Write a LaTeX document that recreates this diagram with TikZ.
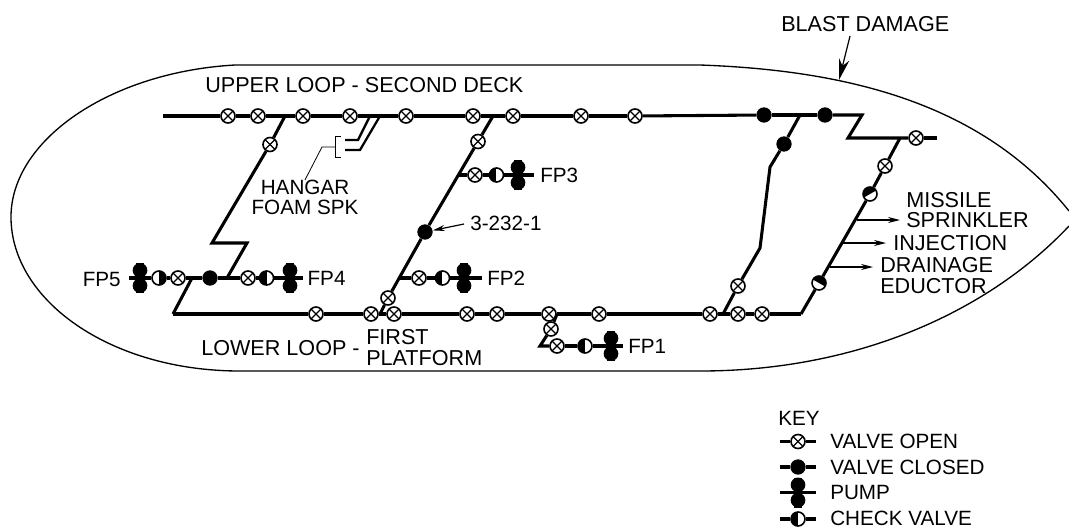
\documentclass[tikz,border=0pt]{standalone}
\usepackage{fontspec}
\setmainfont{Liberation Sans}
\usepackage{tikz}
\usetikzlibrary{arrows.meta, positioning}

\begin{document}
\begin{tikzpicture}[
    x=0.75pt, y=-0.75pt,
    node distance=5pt and 5pt,
    % ── Fitting styles ──
    valveopen/.style={circle, draw=black, line width=1.2pt, fill=white,
                      inner sep=0pt, minimum size=10.5pt,
                      path picture={
                        \draw[black, line width=1pt] (path picture bounding box.north west) -- (path picture bounding box.south east);
                        \draw[black, line width=1pt] (path picture bounding box.north east) -- (path picture bounding box.south west);}},
    valveshut/.style={circle, fill=black, inner sep=0pt, minimum size=11.5pt},
    % the argument is the side that is black
    checkvalve/.style={circle, draw=black, line width=1.2pt, fill=white,
                       inner sep=0pt, minimum size=10.5pt,
                       path picture={
                         \fill[black] (path picture bounding box.center) ++(#1-90:8pt)
                           -- ++(#1:8pt) -- ++(#1+90:16pt) -- ++(#1+180:8pt) -- cycle;}},
    checkvalve/.default=180,
    pumpbody/.style={rectangle, inner sep=0pt, outer sep=-0.5pt, minimum width=11pt, minimum height=22.5pt,
                     path picture={
                       \fill ([yshift=-5.5pt]path picture bounding box.north) circle (5.5pt);
                       \fill ([yshift=5.5pt]path picture bounding box.south) circle (5.5pt);
                       \fill ([xshift=-3pt]path picture bounding box.north) rectangle ([xshift=3pt]path picture bounding box.south);
                       \fill ([yshift=1.15pt]path picture bounding box.west) rectangle ([yshift=-1.15pt]path picture bounding box.east);}},
    % ── Line styles ──
    pipe/.style={line width=2.3pt, line join=miter},
    foam/.style={line width=1.7pt},
    hull/.style={line width=1pt},
    leader/.style={line width=0.6pt},
    arr/.style={-{Stealth[length=9pt, width=4.5pt]}, line width=0.9pt},
    bigarr/.style={-{Stealth[length=16pt, width=8pt]}, line width=0.9pt},
    lbl/.style={inner sep=0pt, align=left, font=\fontsize{15.5}{15}\selectfont},
    biglbl/.style={inner sep=0pt, align=left, font=\fontsize{16.2}{15.5}\selectfont},
    lblmid/.style={inner sep=0pt, align=center, font=\fontsize{15.5}{15}\selectfont}
]
\useasboundingbox (0,0) rectangle (1069,529);

% ═══ Hull outline ═══
\coordinate (bowtop) at (1069,211);
\coordinate (bowlow) at (1069,226);
\draw[hull] (bowtop) .. controls (980,100) and (840,70) .. (700,65)
  -- (235,65) .. controls (110,72) and (11,140) .. (11,217)
  .. controls (11,300) and (110,371) .. (240,371)
  -- (700,371) .. controls (860,371) and (990,310) .. (bowlow);

% ═══ Upper loop ═══
\coordinate (upstart) at (163,116);
\node[valveopen] (u1) at (228,116) {};
\node[valveopen] (u2) at (258,116) {};
\coordinate (ujleft) at (285,116);
\node[valveopen] (u3) at (303,116) {};
\node[valveopen] (u4) at (350,116) {};
\node[valveopen] (u5) at (406,116) {};
\node[valveopen] (u6) at (473,116) {};
\coordinate (ujmid) at (493,116);
\node[valveopen] (u7) at (513,116) {};
\node[valveopen] (u8) at (581,116) {};
\node[valveopen] (u9) at (635,116) {};
\node[valveshut] (u10) at (764,115) {};
\coordinate (ujright) at (800,115);
\node[valveshut] (u11) at (825,115) {};
\coordinate (upend) at (862,115);
\coordinate (updrop) at (848,138);
\coordinate (ujaft) at (900,138);
\node[valveopen] (u12) at (916,138) {};
\coordinate (upstub) at (937,138);

\draw[pipe] (upstart) -- (u1);
\draw[pipe] (u1) -- (u2);
\draw[pipe] (u2) -- (u3);
\draw[pipe] (u3) -- (u4);
\draw[pipe] (u4) -- (u5);
\draw[pipe] (u5) -- (u6);
\draw[pipe] (u6) -- (u7);
\draw[pipe] (u7) -- (u8);
\draw[pipe] (u8) -- (u9);
\draw[pipe] (u9) -- (u10);
\draw[pipe] (u10) -- (u11);
\draw[pipe] (u11) -- (upend) -- (updrop) -- (u12);
\draw[pipe] (u12) -- (upstub);

% ═══ Lower loop ═══
\coordinate (lowstart) at (173,314);
\node[valveopen] (l1) at (316,314) {};
\node[valveopen] (l2) at (371,314) {};
\coordinate (ljmid) at (380,314);
\node[valveopen] (l3) at (394,314) {};
\node[valveopen] (l4) at (467,314) {};
\node[valveopen] (l5) at (497,314) {};
\node[valveopen] (l6) at (549,314) {};
\coordinate (ljpump) at (557,314);
\node[valveopen] (l7) at (599,314) {};
\node[valveopen] (l8) at (710,314) {};
\coordinate (ljright) at (723,314);
\node[valveopen] (l9) at (738,314) {};
\node[valveopen] (l10) at (762,314) {};
\coordinate (lowend) at (801,314);

\draw[pipe] (lowstart) -- (l1);
\draw[pipe] (l1) -- (l2);
\draw[pipe] (l2) -- (l3);
\draw[pipe] (l3) -- (l4);
\draw[pipe] (l4) -- (l5);
\draw[pipe] (l5) -- (l6);
\draw[pipe] (l6) -- (l7);
\draw[pipe] (l7) -- (l8);
\draw[pipe] (l8) -- (l9);
\draw[pipe] (l9) -- (l10);
\draw[pipe] (l10) -- (lowend);

% ═══ Left riser + FP5/FP4 ═══
\node[valveopen] (a1) at (270,144.5) {};
\coordinate (abendl) at (212,243);
\coordinate (abendr) at (247,243);
\coordinate (ajtop) at (227,278);
\coordinate (ajlow) at (192,278);
\coordinate (fp5end) at (129,278);
\node[pumpbody] (pump5) at (140,278) {};
\node[checkvalve=0] (chk5) at (159,278) {};
\node[valveopen] (a2) at (178,278) {};
\node[valveshut] (a3) at (210,278) {};
\node[valveopen] (a4) at (248,278) {};
\node[checkvalve, right=2.2pt of a4] (chk4) {};
\node[pumpbody] (pump4) at (290,278) {};
\node[lbl, anchor=east] (fp5) at (121,279) {FP5};
\node[lbl, right=8pt of pump4] (fp4) {FP4};
\coordinate (fp4end) at (303,278);

\draw[pipe] (ujleft) -- (a1);
\draw[pipe] (a1) -- (abendl) -- (abendr) -- (ajtop);
\draw[pipe] (fp5end) -- (pump5);
\draw[pipe] (pump5) -- (chk5);
\draw[pipe] (chk5) -- (a2);
\draw[pipe] (a2) -- (a3);
\draw[pipe] (a3) -- (a4);
\draw[pipe] (a4) -- (chk4);
\draw[pipe] (chk4) -- (pump4);
\draw[pipe] (pump4) -- (fp4end);
\draw[pipe] (ajlow) -- (lowstart);

% ═══ Middle riser + FP3/FP2 ═══
\node[valveopen] (m1) at (478,141.5) {};
\coordinate (mj3) at (459,175);
\node[valveshut] (m2) at (425,232) {};
\coordinate (mj2) at (400,278);
\node[valveopen] (m3) at (388,298) {};
\node[valveopen] (m4) at (475,175) {};
\node[checkvalve, right=4.4pt of m4] (chk3) {};
\node[pumpbody] (pump3) at (518,175) {};
\coordinate (fp3end) at (534,175);
\node[valveopen] (m5) at (419,278) {};
\node[checkvalve, right=5.9pt of m5] (chk2) {};
\node[pumpbody] (pump2) at (464,278) {};
\coordinate (fp2end) at (482,278);
\node[lbl, anchor=west] (fp3) at (540,175) {FP3};
\node[lbl, anchor=west] (fp2) at (487,278) {FP2};

\draw[pipe] (ujmid) -- (m1);
\draw[pipe] (m1) -- (m2);
\draw[pipe] (m2) -- (m3);
\draw[pipe] (m3) -- (ljmid);
\draw[pipe] (mj3) -- (m4);
\draw[pipe] (m4) -- (chk3);
\draw[pipe] (chk3) -- (pump3);
\draw[pipe] (pump3) -- (fp3end);
\draw[pipe] (mj2) -- (m5);
\draw[pipe] (m5) -- (chk2);
\draw[pipe] (chk2) -- (pump2);
\draw[pipe] (pump2) -- (fp2end);

% ═══ FP1 spur ═══
\node[valveopen] (p1) at (551,329) {};
\coordinate (pbend) at (540,346);
\node[valveopen] (p2) at (557,346) {};
\node[checkvalve] (chk1) at (585,346) {};
\node[pumpbody] (pump1) at (611,346) {};
\coordinate (fp1end) at (623,346);
\node[lbl, anchor=west] (fp1) at (628,346) {FP1};

\draw[pipe] (ljpump) -- (p1);
\draw[pipe] (p1) -- (pbend) -- (p2);
\draw[pipe] (p2) -- (chk1);
\draw[pipe] (chk1) -- (pump1);
\draw[pipe] (pump1) -- (fp1end);

% ═══ Right risers ═══
\node[valveshut] (r1) at (784,144) {};
\coordinate (rbendt) at (770,167);
\coordinate (rbendb) at (760,248);
\node[valveopen] (r2) at (738,286) {};

\draw[pipe] (ujright) -- (r1);
\draw[pipe] (r1) -- (rbendt) -- (rbendb) -- (r2);
\draw[pipe] (r2) -- (ljright);

\node[valveopen] (f1) at (885,166) {};
\node[checkvalve=120] (f2) at (870,194) {};
\node[checkvalve=60] (f3) at (819,283) {};
\coordinate (jsprink) at (857,220);
\coordinate (jinject) at (842,243);
\coordinate (jeduct) at (830,267);

\draw[pipe] (ujaft) -- (f1);
\draw[pipe] (f1) -- (f2);
\draw[pipe] (f2) -- (f3);
\draw[pipe] (f3) -- (lowend);

% ═══ Hangar foam sprinkler ═══
\coordinate (fa1) at (370,116);
\coordinate (fa2) at (358,140);
\coordinate (fa3) at (345,140);
\coordinate (fb1) at (380,116);
\coordinate (fb2) at (360,150);
\coordinate (fb3) at (345,150);
\coordinate (brt) at (341,136);
\coordinate (brb) at (341,157);
\coordinate (brtl) at (335,136);
\coordinate (brbl) at (335,157);
\coordinate (brmid) at (335,147);
\coordinate (ldbend) at (322,147);
\node[lblmid] (hangar) at (305,197.5) {HANGAR\\FOAM SPK};

\draw[foam] (fa1) -- (fa2) -- (fa3);
\draw[foam] (fb1) -- (fb2) -- (fb3);
\draw[leader] (brt) -- (brtl) -- (brbl) -- (brb);
\draw[leader] (brmid) -- (ldbend) -- (hangar.north);

% ═══ Labels and pointers ═══
\node[biglbl, anchor=west] (upper) at (205,85) {UPPER LOOP - SECOND DECK};
\node[biglbl, anchor=west] (lower) at (201,348) {LOWER LOOP -};
\node[biglbl, anchor=west] (first) at (366,347.5) {FIRST\\PLATFORM};
\node[biglbl, anchor=west] (blast) at (781,24) {BLAST DAMAGE};
\coordinate (blasthit) at (839,80);
\coordinate (blasttail) at (850,36);
\draw[bigarr] (blasttail) -- (blasthit);

\node[lbl, anchor=west] (tag) at (470,223) {3-232-1};
\draw[arr] (tag.west) ++(-6,1) coordinate (tagtail) -- (m2);

\node[biglbl, anchor=west] (sprink) at (906,210) {MISSILE\\SPRINKLER};
\node[biglbl, anchor=west] (inject) at (893,243) {INJECTION};
\node[biglbl, anchor=west] (educt) at (880,275.5) {DRAINAGE\\EDUCTOR};
\coordinate (sprinktip) at (900,220);
\coordinate (injecttip) at (886,243);
\coordinate (educttip) at (873,267);
\draw[arr] (jsprink) -- (sprinktip);
\draw[arr] (jinject) -- (injecttip);
\draw[arr] (jeduct) -- (educttip);

% ═══ Key ═══
\node[lbl, anchor=west] (key) at (778,418) {KEY};
\coordinate (k1l) at (780,441.5);
\node[valveopen] (k1) at (798,441.5) {};
\coordinate (k1r) at (816,441.5);
\coordinate (k2l) at (780,467);
\node[valveshut] (k2) at (798,467) {};
\coordinate (k2r) at (816,467);
\coordinate (k3l) at (780,492.5);
\node[pumpbody] (k3) at (798,492.5) {};
\coordinate (k3r) at (816,492.5);
\coordinate (k4l) at (780,519);
\node[checkvalve] (k4) at (798,519) {};
\coordinate (k4r) at (816,519);
\node[lbl, anchor=west] (k1t) at (830,441.5) {VALVE OPEN};
\node[lbl, anchor=west] (k2t) at (830,467) {VALVE CLOSED};
\node[lbl, anchor=west] (k3t) at (830,492.5) {PUMP};
\node[lbl, anchor=west] (k4t) at (830,518) {CHECK VALVE};

\draw[pipe] (k1l) -- (k1);
\draw[pipe] (k1) -- (k1r);
\draw[pipe] (k2l) -- (k2);
\draw[pipe] (k2) -- (k2r);
\draw[pipe] (k3l) -- (k3);
\draw[pipe] (k3) -- (k3r);
\draw[pipe] (k4l) -- (k4);
\draw[pipe] (k4) -- (k4r);

\end{tikzpicture}
\end{document}
